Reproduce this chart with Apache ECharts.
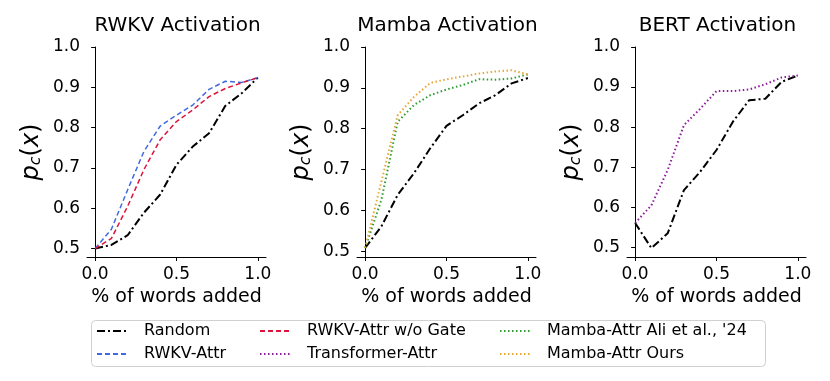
<!DOCTYPE html>
<html>
<head>
<meta charset="utf-8">
<script src="https://cdn.jsdelivr.net/npm/echarts@6/dist/echarts.min.js"></script>
<style>
  html, body { margin: 0; padding: 0; background: #fff; }
  #chart { width: 830px; height: 381px; }
</style>
</head>
<body>
<div id="chart"></div>
<script>
// fraction of words added (shared by all panels)
const xs = [0.0, 0.1, 0.2, 0.3, 0.4, 0.5, 0.6, 0.7, 0.8, 0.9, 1.0];

// RWKV panel
const rwkvRandom = [0.500, 0.509, 0.533, 0.589, 0.634, 0.708, 0.753, 0.786, 0.854, 0.885, 0.924];
const rwkvAttr   = [0.500, 0.548, 0.646, 0.741, 0.804, 0.831, 0.856, 0.895, 0.915, 0.912, 0.924];
const rwkvNoGate = [0.500, 0.525, 0.605, 0.696, 0.770, 0.815, 0.844, 0.877, 0.897, 0.911, 0.924];

// Mamba panel
const mambaRandom = [0.508, 0.561, 0.638, 0.691, 0.752, 0.807, 0.833, 0.862, 0.882, 0.911, 0.924];
const mambaAli    = [0.508, 0.626, 0.817, 0.858, 0.882, 0.896, 0.907, 0.921, 0.920, 0.923, 0.933];
const mambaOurs   = [0.508, 0.671, 0.833, 0.878, 0.912, 0.921, 0.928, 0.935, 0.940, 0.943, 0.933];

// BERT panel
const bertRandom = [0.561, 0.498, 0.535, 0.643, 0.689, 0.743, 0.813, 0.867, 0.871, 0.913, 0.929];
const bertAttr   = [0.561, 0.605, 0.693, 0.805, 0.846, 0.890, 0.890, 0.894, 0.907, 0.924, 0.929];

const titles = ['RWKV Activation', 'Mamba Activation', 'BERT Activation'];
const xTicks = [0, 0.5, 1.0];
const yTicks = [0.5, 0.6, 0.7, 0.8, 0.9, 1.0];
const yMins = [0.479, 0.486, 0.476];

const FONT = 'DejaVu Sans';
const pairs = (ys) => xs.map((x, i) => [x, ys[i]]);

// grid placement (px)
const grids = [
  { left: 87, right: 564, top: 47, bottom: 124 },
  { left: 357, right: 294, top: 47, bottom: 124 },
  { left: 627, right: 24, top: 47, bottom: 124 }
];

const styles = {
  'Random':                   { color: '#000000', type: [8, 3, 2, 3], width: 2 },
  'RWKV-Attr':                { color: '#4169E1', type: [5, 3], width: 1.5 },
  'RWKV-Attr w/o Gate':       { color: '#DC143C', type: [5, 3], width: 1.5 },
  'Transformer-Attr':         { color: '#8E1A9E', type: [1.5, 2.5], width: 2 },
  "Mamba-Attr Ali et al., '24": { color: '#2E9B2E', type: [1.5, 2.5], width: 2 },
  'Mamba-Attr Ours':          { color: '#E8A633', type: [1.5, 2.5], width: 2 }
};

function line(name, data, idx) {
  const s = styles[name];
  return {
    name: name, type: 'line', xAxisIndex: idx, yAxisIndex: idx,
    data: pairs(data), symbol: 'none', smooth: false,
    itemStyle: { color: s.color },
    lineStyle: { color: s.color, type: s.type, width: s.width }
  };
}

const chart = echarts.init(document.getElementById('chart'));

const option = {
  animation: false,
  textStyle: { fontFamily: FONT },
  title: titles.map((t, i) => ({
    text: t,
    left: grids[i].left + (830 - grids[i].left - grids[i].right) / 2 - 4,
    top: 11,
    textAlign: 'center',
    textStyle: { fontFamily: FONT, fontSize: 20, fontWeight: 'normal', color: '#000' }
  })),
  grid: grids,
  xAxis: grids.map((g, i) => ({
    type: 'value', gridIndex: i, min: -0.05, max: 1.05,
    name: '% of words added', nameLocation: 'middle', nameGap: 28,
    nameTextStyle: { fontFamily: FONT, fontSize: 19, color: '#000' },
    axisLine: { lineStyle: { color: '#000', width: 1 } },
    axisTick: { customValues: xTicks, length: 4, lineStyle: { color: '#000' } },
    axisLabel: { customValues: xTicks, color: '#000', fontSize: 17, margin: 9,
                 formatter: v => v.toFixed(1) },
    splitLine: { show: false }
  })),
  yAxis: grids.map((g, i) => ({
    type: 'value', gridIndex: i, min: yMins[i], max: 1.0,
    name: '{i|p}{s|c}{n|(}{i|x}{n|)}', nameLocation: 'middle', nameGap: 43, nameRotate: 90,
    nameTextStyle: {
      color: '#000',
      rich: {
        i: { fontFamily: FONT, fontStyle: 'italic', fontSize: 24, color: '#000' },
        s: { fontFamily: FONT, fontStyle: 'italic', fontSize: 16, color: '#000', padding: [8, 0, 0, 0] },
        n: { fontFamily: FONT, fontSize: 24, color: '#000' }
      }
    },
    axisLine: { show: true, lineStyle: { color: '#000', width: 1 } },
    axisTick: { show: true, customValues: yTicks, length: 4, lineStyle: { color: '#000' } },
    axisLabel: { customValues: yTicks, color: '#000', fontSize: 17, margin: 7,
                 formatter: v => v.toFixed(1) },
    splitLine: { show: false }
  })),
  legend: [
    { data: ['Random', 'RWKV-Attr'], left: 96 },
    { data: ['RWKV-Attr w/o Gate', 'Transformer-Attr'], left: 259 },
    { data: ["Mamba-Attr Ali et al., '24", 'Mamba-Attr Ours'], left: 499 }
  ].map(l => Object.assign({
    orient: 'vertical', top: 322, padding: 0,
    itemWidth: 32, itemHeight: 14, itemGap: 5,
    itemStyle: { opacity: 0 },
    textStyle: { fontFamily: FONT, fontSize: 16, lineHeight: 18, color: '#000', padding: [0, 0, 0, 10] }
  }, l)),
  graphic: [{
    type: 'rect', left: 89, top: 318,
    shape: { width: 674, height: 46, r: 4 },
    style: { fill: 'none', stroke: '#d0d0d0', lineWidth: 1 },
    silent: true
  }],
  series: [
    line('Random', rwkvRandom, 0),
    line('RWKV-Attr', rwkvAttr, 0),
    line('RWKV-Attr w/o Gate', rwkvNoGate, 0),
    line('Random', mambaRandom, 1),
    line("Mamba-Attr Ali et al., '24", mambaAli, 1),
    line('Mamba-Attr Ours', mambaOurs, 1),
    line('Random', bertRandom, 2),
    line('Transformer-Attr', bertAttr, 2)
  ]
};

chart.setOption(option);
</script>
</body>
</html>
